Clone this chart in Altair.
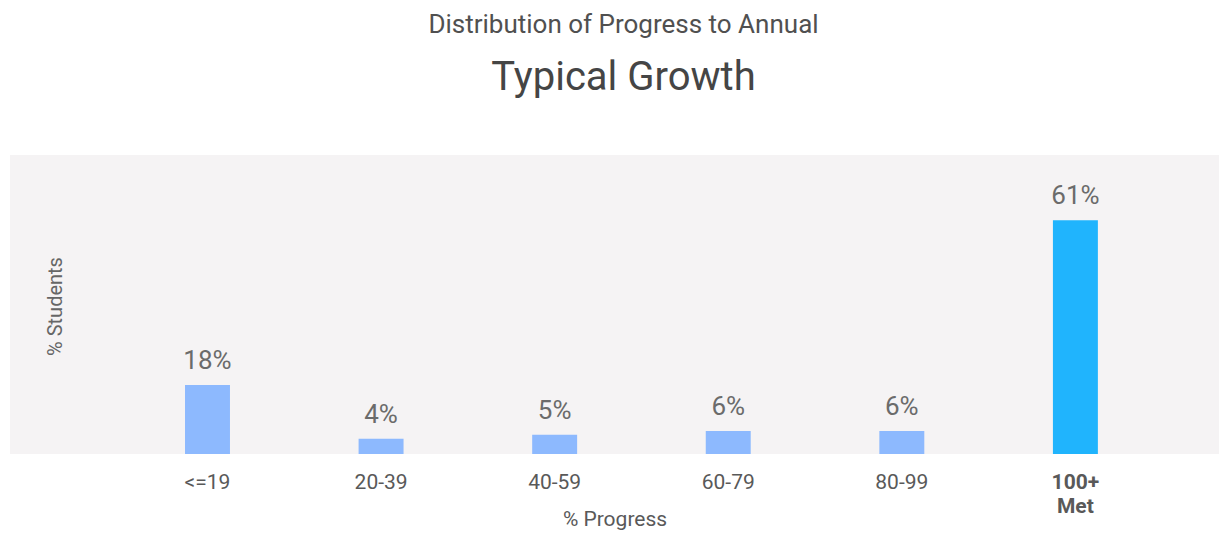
import altair as alt
import pandas as pd

categories = ["<=19", "20-39", "40-59", "60-79", "80-99", "100+ Met"]
values = [18, 4, 5, 6, 6, 61]
labels = ["18%", "4%", "5%", "6%", "6%", "61%"]
is_met = [False, False, False, False, False, True]

df = pd.DataFrame({"cat": categories, "val": values, "lab": labels, "met": is_met})

x_enc = alt.X(
    "cat:N",
    sort=categories,
    scale=alt.Scale(paddingInner=0.741, paddingOuter=0.853, align=0.591),
    axis=alt.Axis(
        title="% Progress",
        labelAngle=0,
        domain=False,
        ticks=False,
        labelPadding=17,
        labelFontSize=21,
        labelColor="#595959",
        labelFont="Roboto",
        labelLineHeight=24,
        labelExpr="split(datum.label, ' ')",
        labelFontWeight={"condition": {"test": "datum.value == '100+ Met'", "value": "bold"}, "value": "normal"},
        titleFont="Roboto",
        titleFontSize=21,
        titleFontWeight="normal",
        titleColor="#595959",
        titleY=65,
        titleBaseline="middle",
    ),
)

y_enc = alt.Y(
    "val:Q",
    scale=alt.Scale(domain=[0, 78], nice=False),
    axis=alt.Axis(
        title="% Students",
        labels=False,
        ticks=False,
        domain=False,
        grid=False,
        titleFont="Roboto",
        titleFontSize=20,
        titleFontWeight="normal",
        titleColor="#666666",
        titleX=45,
        titleY=151,
        titleAngle=-90,
        titleAlign="center",
        titleBaseline="middle",
    ),
)

base = alt.Chart(df).encode(x=x_enc, y=y_enc)

bars = base.mark_bar().encode(
    color=alt.Color(
        "met:N",
        scale=alt.Scale(domain=[False, True], range=["#8db9fe", "#20b4fd"]),
        legend=None,
    )
)

texts = base.mark_text(
    dy=-24, font="Roboto", fontSize=26, color="#6b6b6b", baseline="middle"
).encode(text="lab:N")

chart = (
    alt.layer(bars, texts)
    .properties(
        width=1209,
        height=299,
        autosize=alt.AutoSizeParams(type="none"),
        padding={"left": 2, "top": 147, "right": 0, "bottom": 76},
        background="white",
        title=alt.TitleParams(
            text="Distribution of Progress to Annual",
            subtitle="Typical Growth",
            font="Roboto",
            fontSize=26,
            fontWeight="normal",
            color="#505050",
            subtitleFont="Roboto",
            subtitleFontSize=40,
            subtitleColor="#454545",
            subtitlePadding=20,
            anchor="middle",
            offset=57,
            dx=9,
        ),
    )
    .configure_view(fill="#f5f3f4", strokeWidth=0)
)

chart.save("out.html", embed_options={"renderer": "svg", "actions": False})
